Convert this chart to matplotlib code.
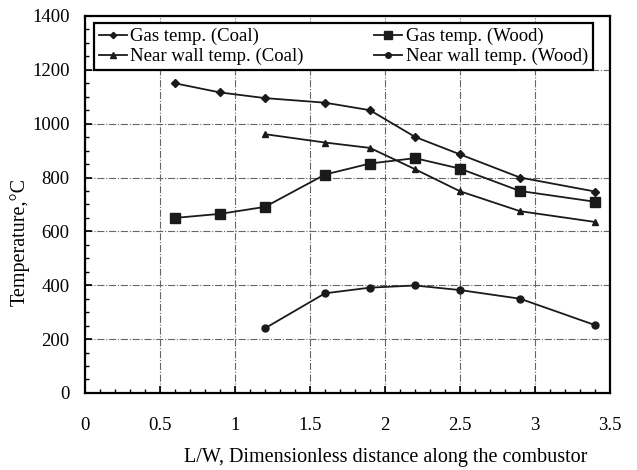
from matplotlib import pyplot as plt
from matplotlib.ticker import MultipleLocator

# ------------------------------------------------------------------------ DATA
x_gas = [0.6, 0.9, 1.2, 1.6, 1.9, 2.2, 2.5, 2.9, 3.4]
gas_coal = [1150, 1116, 1095, 1078, 1050, 951, 886, 800, 748]
gas_wood = [650, 665, 691, 811, 852, 872, 833, 750, 710]

x_wall = [1.2, 1.6, 1.9, 2.2, 2.5, 2.9, 3.4]
wall_coal = [961, 930, 910, 831, 749, 675, 635]
wall_wood = [240, 370, 391, 399, 382, 350, 252]

labels = [
    "Gas temp. (Coal)",
    "Near wall temp. (Coal)",
    "Gas temp. (Wood)",
    "Near wall temp. (Wood)",
]

# ---------------------------------------------------------------------- Figure
plt.rcParams["font.family"] = ["Liberation Serif", "DejaVu Serif"]

fig = plt.figure(figsize=(6.37, 4.70), dpi=100)
ax = fig.add_axes([0.1334, 0.164, 0.8242, 0.802])

line_kw = dict(color="#1a1a1a", lw=1.3)
h0, = ax.plot(x_gas, gas_coal, marker="D", ms=4, **line_kw)
h1, = ax.plot(x_gas, gas_wood, marker="s", ms=7.5, **line_kw)
h2, = ax.plot(x_wall, wall_coal, marker="^", ms=5, **line_kw)
h3, = ax.plot(x_wall, wall_wood, marker="o", ms=5, **line_kw)

ax.set_xlim(0, 3.5)
ax.set_ylim(0, 1400)
ax.xaxis.set_major_locator(MultipleLocator(0.5))
ax.xaxis.set_minor_locator(MultipleLocator(0.1))
ax.yaxis.set_major_locator(MultipleLocator(200))
ax.yaxis.set_minor_locator(MultipleLocator(50))
ax.xaxis.set_major_formatter(lambda v, p: f"{v:g}")

ax.tick_params(which="both", direction="in", colors="black")
ax.tick_params(which="major", length=5, width=1.2, labelsize=13.5)
ax.tick_params(which="minor", length=3, width=1.0)
ax.tick_params(axis="x", which="major", pad=17)
ax.tick_params(axis="y", which="major", pad=11)

ax.grid(which="major", color="#666666", ls="-.", lw=0.8)
for s in ax.spines.values():
    s.set_linewidth(1.6)

ax.set_xlabel("L/W, Dimensionless distance along the combustor", fontsize=14.5)
ax.xaxis.set_label_coords(0.573, -0.145)
ax.set_ylabel("Temperature,°C", fontsize=14.5)
ax.yaxis.set_label_coords(-0.105, 0.40)

# column-wise fill: row 1 = gas temps, row 2 = near wall temps
leg = ax.legend(
    [h0, h2, h1, h3],
    labels,
    ncol=2,
    loc="upper left",
    bbox_to_anchor=(0.017, 0.862, 0.95, 0.119),
    mode="expand",
    borderaxespad=0,
    fontsize=13.5,
    handlelength=1.5,
    handletextpad=0.2,
    borderpad=0.25,
    labelspacing=0.15,
    columnspacing=1.0,
    fancybox=False,
    framealpha=1,
    edgecolor="black",
    markerscale=0.8,
)
leg.get_frame().set_linewidth(1.6)

fig.savefig("out.png", dpi=100)
